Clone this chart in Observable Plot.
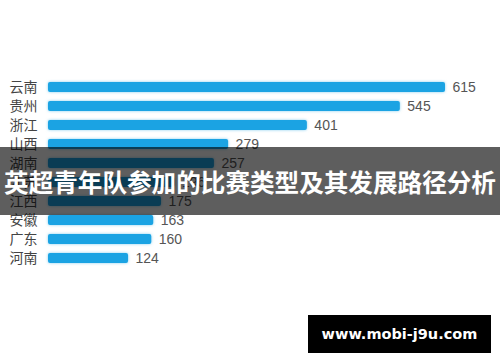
<!DOCTYPE html>
<html>
<head>
<meta charset="utf-8">
<script src="https://cdn.jsdelivr.net/npm/d3@7"></script>
<script src="https://cdn.jsdelivr.net/npm/@observablehq/plot@0.6"></script>
<style>
  html, body { margin: 0; padding: 0; background: #fff; }
  #wrap { position: relative; width: 500px; height: 362px; overflow: hidden; background: #fff; }
  #banner {
    position: absolute; left: 0; top: 147px; width: 500px; height: 68px;
    background: rgba(0,0,0,0.63);
    color: #fff; font-family: "Noto Sans CJK SC", sans-serif; font-weight: 700;
    font-size: 24.6px; line-height: 68px; text-align: center; white-space: nowrap;
    letter-spacing: 0px;
  }
  #mark {
    position: absolute; left: 308px; top: 315px; width: 183px; height: 38px;
    background: #000; color: #fff; font-family: "DejaVu Sans", sans-serif; font-weight: 700;
    font-size: 14.5px; line-height: 38px; text-align: center; white-space: nowrap;
  }
  svg rect.bar { filter: drop-shadow(0 0 1.5px rgba(40,170,230,0.55)); }
</style>
</head>
<body>
<div id="wrap">
  <div id="chart"></div>
  <div id="banner">英超青年队参加的比赛类型及其发展路径分析</div>
  <div id="mark">www.mobi-j9u.com</div>
</div>
<script>
const provinces = ["云南", "贵州", "浙江", "山西", "湖南", "江苏", "江西", "安徽", "广东", "河南"];
const counts = [615, 545, 401, 279, 257, 196, 175, 163, 160, 124];
const title = "英超青年队参加的比赛类型及其发展路径分析";

const data = provinces.map((p, i) => ({province: p, count: counts[i]}));

const chart = Plot.plot({
  width: 500,
  height: 362,
  marginLeft: 48,
  marginRight: 55,
  marginTop: 70.5,
  marginBottom: 88.5,
  style: {fontFamily: "'Liberation Sans', 'Noto Sans CJK SC', sans-serif", fontSize: "14px", color: "#555", background: "#fff"},
  x: {axis: null, domain: [0, d3.max(counts)]},
  y: {domain: provinces, padding: 0.5, label: null},
  marks: [
    Plot.barX(data, {x: "count", y: "province", fill: "#1ba3e3", rx: 2, className: "bar"}),
    Plot.text(data, {x: "count", y: "province", text: d => String(d.count), textAnchor: "start", dx: 7, fill: "#555", fontSize: 14}),
    Plot.axisY({tickSize: 0, tickPadding: 11, fontSize: 14, fill: "#444", label: null})
  ]
});
chart.querySelectorAll("g[aria-label='bar'] rect").forEach(r => r.classList.add("bar"));
document.getElementById("chart").appendChild(chart);
</script>
</body>
</html>
